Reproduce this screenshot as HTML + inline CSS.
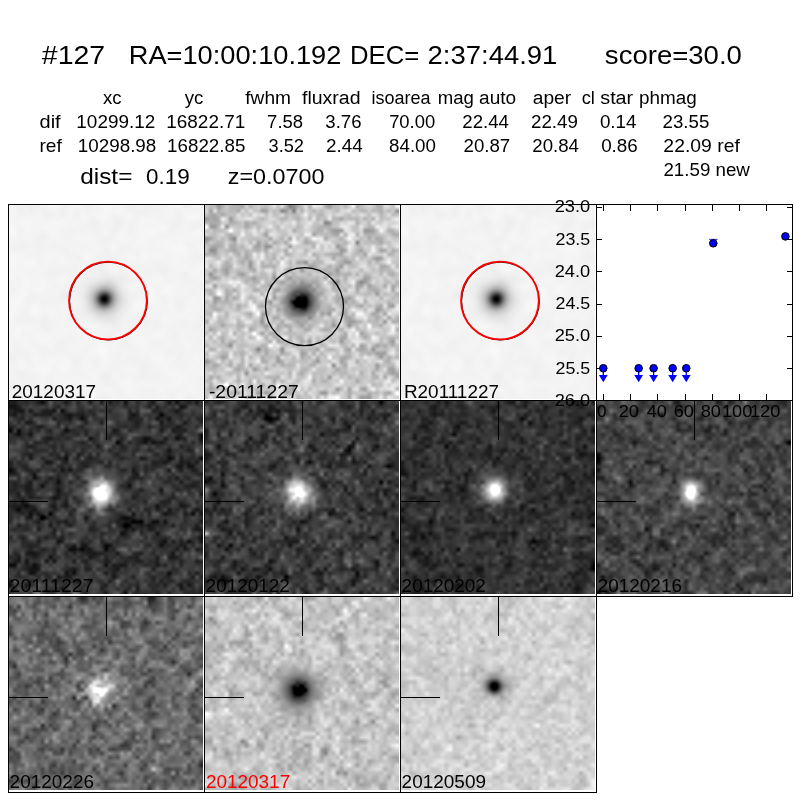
<!DOCTYPE html>
<html><head><meta charset="utf-8"><style>
html,body{margin:0;padding:0;background:#fff;width:800px;height:800px;overflow:hidden;position:relative}
svg{position:absolute;left:0;top:0}
text{font-family:"Liberation Sans",sans-serif}
</style></head><body>
<canvas id="c0" width="194" height="194" style="position:absolute;left:9px;top:205px;width:194px;height:194px;background:rgb(243,243,243)"></canvas><canvas id="c1" width="194" height="194" style="position:absolute;left:205px;top:205px;width:194px;height:194px;background:rgb(197,197,197)"></canvas><canvas id="c2" width="194" height="194" style="position:absolute;left:401px;top:205px;width:194px;height:194px;background:rgb(243,243,243)"></canvas><canvas id="c3" width="194" height="193" style="position:absolute;left:9px;top:401px;width:194px;height:193px;background:rgb(52,52,52)"></canvas><canvas id="c4" width="194" height="193" style="position:absolute;left:205px;top:401px;width:194px;height:193px;background:rgb(60,60,60)"></canvas><canvas id="c5" width="194" height="193" style="position:absolute;left:401px;top:401px;width:194px;height:193px;background:rgb(48,48,48)"></canvas><canvas id="c6" width="194" height="193" style="position:absolute;left:597px;top:401px;width:194px;height:193px;background:rgb(70,70,70)"></canvas><canvas id="c7" width="194" height="193" style="position:absolute;left:9px;top:597px;width:194px;height:193px;background:rgb(104,104,104)"></canvas><canvas id="c8" width="194" height="193" style="position:absolute;left:205px;top:597px;width:194px;height:193px;background:rgb(196,196,196)"></canvas><canvas id="c9" width="194" height="193" style="position:absolute;left:401px;top:597px;width:194px;height:193px;background:rgb(208,208,208)"></canvas>
<svg width="800" height="800" viewBox="0 0 800 800" shape-rendering="crispEdges">
<g><rect x="8.5" y="204.5" width="196" height="196" fill="none" stroke="#000" stroke-width="1"/><rect x="204.5" y="204.5" width="196" height="196" fill="none" stroke="#000" stroke-width="1"/><rect x="400.5" y="204.5" width="196" height="196" fill="none" stroke="#000" stroke-width="1"/><rect x="596.5" y="204.5" width="196" height="196" fill="none" stroke="#000" stroke-width="1"/><rect x="8.5" y="400.5" width="196" height="196" fill="none" stroke="#000" stroke-width="1"/><rect x="204.5" y="400.5" width="196" height="196" fill="none" stroke="#000" stroke-width="1"/><rect x="400.5" y="400.5" width="196" height="196" fill="none" stroke="#000" stroke-width="1"/><rect x="596.5" y="400.5" width="196" height="196" fill="none" stroke="#000" stroke-width="1"/><rect x="8.5" y="596.5" width="196" height="196" fill="none" stroke="#000" stroke-width="1"/><rect x="204.5" y="596.5" width="196" height="196" fill="none" stroke="#000" stroke-width="1"/><rect x="400.5" y="596.5" width="196" height="196" fill="none" stroke="#000" stroke-width="1"/><line x1="106.5" y1="400" x2="106.5" y2="439.5" stroke="#000" stroke-width="1"/><line x1="8" y1="501.0" x2="47.5" y2="501" stroke="#000" stroke-width="1"/><line x1="302.5" y1="400" x2="302.5" y2="439.5" stroke="#000" stroke-width="1"/><line x1="204" y1="501.0" x2="243.5" y2="501" stroke="#000" stroke-width="1"/><line x1="498.5" y1="400" x2="498.5" y2="439.5" stroke="#000" stroke-width="1"/><line x1="400" y1="501.0" x2="439.5" y2="501" stroke="#000" stroke-width="1"/><line x1="694.5" y1="400" x2="694.5" y2="439.5" stroke="#000" stroke-width="1"/><line x1="596" y1="501.0" x2="635.5" y2="501" stroke="#000" stroke-width="1"/><line x1="106.5" y1="596" x2="106.5" y2="635.5" stroke="#000" stroke-width="1"/><line x1="8" y1="697.0" x2="47.5" y2="697" stroke="#000" stroke-width="1"/><line x1="302.5" y1="596" x2="302.5" y2="635.5" stroke="#000" stroke-width="1"/><line x1="204" y1="697.0" x2="243.5" y2="697" stroke="#000" stroke-width="1"/><line x1="498.5" y1="596" x2="498.5" y2="635.5" stroke="#000" stroke-width="1"/><line x1="400" y1="697.0" x2="439.5" y2="697" stroke="#000" stroke-width="1"/></g>
</svg>
<svg width="800" height="800" viewBox="0 0 800 800">
<g><circle cx="108.5" cy="301.1" r="38.9" fill="none" stroke="#000" stroke-width="1.0"/><circle cx="107.9" cy="300.5" r="38.9" fill="none" stroke="#f00" stroke-width="1.8"/><circle cx="500.5" cy="301.1" r="38.9" fill="none" stroke="#000" stroke-width="1.0"/><circle cx="499.9" cy="300.5" r="38.9" fill="none" stroke="#f00" stroke-width="1.8"/><circle cx="304.5" cy="306.6" r="39.0" fill="none" stroke="#000" stroke-width="1.3"/></g>
<g><rect x="597" y="205" width="195" height="195" fill="#fff"/><rect x="596.5" y="204.5" width="196" height="196" fill="none" stroke="#000" stroke-width="1"/><line x1="597" y1="207.5" x2="602" y2="207.5" stroke="#000" stroke-width="1" shape-rendering="crispEdges"/><line x1="787" y1="207.5" x2="792" y2="207.5" stroke="#000" stroke-width="1" shape-rendering="crispEdges"/><line x1="597" y1="239.5" x2="602" y2="239.5" stroke="#000" stroke-width="1" shape-rendering="crispEdges"/><line x1="787" y1="239.5" x2="792" y2="239.5" stroke="#000" stroke-width="1" shape-rendering="crispEdges"/><line x1="597" y1="271.5" x2="602" y2="271.5" stroke="#000" stroke-width="1" shape-rendering="crispEdges"/><line x1="787" y1="271.5" x2="792" y2="271.5" stroke="#000" stroke-width="1" shape-rendering="crispEdges"/><line x1="597" y1="304.5" x2="602" y2="304.5" stroke="#000" stroke-width="1" shape-rendering="crispEdges"/><line x1="787" y1="304.5" x2="792" y2="304.5" stroke="#000" stroke-width="1" shape-rendering="crispEdges"/><line x1="597" y1="336.5" x2="602" y2="336.5" stroke="#000" stroke-width="1" shape-rendering="crispEdges"/><line x1="787" y1="336.5" x2="792" y2="336.5" stroke="#000" stroke-width="1" shape-rendering="crispEdges"/><line x1="597" y1="368.5" x2="602" y2="368.5" stroke="#000" stroke-width="1" shape-rendering="crispEdges"/><line x1="787" y1="368.5" x2="792" y2="368.5" stroke="#000" stroke-width="1" shape-rendering="crispEdges"/><line x1="597" y1="400.5" x2="602" y2="400.5" stroke="#000" stroke-width="1" shape-rendering="crispEdges"/><line x1="787" y1="400.5" x2="792" y2="400.5" stroke="#000" stroke-width="1" shape-rendering="crispEdges"/><line x1="603.5" y1="205" x2="603.5" y2="211" stroke="#000" stroke-width="1" shape-rendering="crispEdges"/><line x1="603.5" y1="394" x2="603.5" y2="400" stroke="#000" stroke-width="1" shape-rendering="crispEdges"/><line x1="630.5" y1="205" x2="630.5" y2="211" stroke="#000" stroke-width="1" shape-rendering="crispEdges"/><line x1="630.5" y1="394" x2="630.5" y2="400" stroke="#000" stroke-width="1" shape-rendering="crispEdges"/><line x1="657.5" y1="205" x2="657.5" y2="211" stroke="#000" stroke-width="1" shape-rendering="crispEdges"/><line x1="657.5" y1="394" x2="657.5" y2="400" stroke="#000" stroke-width="1" shape-rendering="crispEdges"/><line x1="685.5" y1="205" x2="685.5" y2="211" stroke="#000" stroke-width="1" shape-rendering="crispEdges"/><line x1="685.5" y1="394" x2="685.5" y2="400" stroke="#000" stroke-width="1" shape-rendering="crispEdges"/><line x1="712.5" y1="205" x2="712.5" y2="211" stroke="#000" stroke-width="1" shape-rendering="crispEdges"/><line x1="712.5" y1="394" x2="712.5" y2="400" stroke="#000" stroke-width="1" shape-rendering="crispEdges"/><line x1="739.5" y1="205" x2="739.5" y2="211" stroke="#000" stroke-width="1" shape-rendering="crispEdges"/><line x1="739.5" y1="394" x2="739.5" y2="400" stroke="#000" stroke-width="1" shape-rendering="crispEdges"/><line x1="766.5" y1="205" x2="766.5" y2="211" stroke="#000" stroke-width="1" shape-rendering="crispEdges"/><line x1="766.5" y1="394" x2="766.5" y2="400" stroke="#000" stroke-width="1" shape-rendering="crispEdges"/><line x1="603.30" y1="368.25" x2="603.30" y2="376" stroke="#00f" stroke-width="1.3"/><path d="M598.90,375.1 L607.70,375.1 L603.30,382.2 Z" fill="#00f"/><circle cx="603.30" cy="368.25" r="3.8" fill="#00f" stroke="#000" stroke-width="1.0"/><line x1="638.66" y1="368.25" x2="638.66" y2="376" stroke="#00f" stroke-width="1.3"/><path d="M634.26,375.1 L643.06,375.1 L638.66,382.2 Z" fill="#00f"/><circle cx="638.66" cy="368.25" r="3.8" fill="#00f" stroke="#000" stroke-width="1.0"/><line x1="653.62" y1="368.25" x2="653.62" y2="376" stroke="#00f" stroke-width="1.3"/><path d="M649.22,375.1 L658.02,375.1 L653.62,382.2 Z" fill="#00f"/><circle cx="653.62" cy="368.25" r="3.8" fill="#00f" stroke="#000" stroke-width="1.0"/><line x1="672.66" y1="368.25" x2="672.66" y2="376" stroke="#00f" stroke-width="1.3"/><path d="M668.26,375.1 L677.06,375.1 L672.66,382.2 Z" fill="#00f"/><circle cx="672.66" cy="368.25" r="3.8" fill="#00f" stroke="#000" stroke-width="1.0"/><line x1="686.26" y1="368.25" x2="686.26" y2="376" stroke="#00f" stroke-width="1.3"/><path d="M681.86,375.1 L690.66,375.1 L686.26,382.2 Z" fill="#00f"/><circle cx="686.26" cy="368.25" r="3.8" fill="#00f" stroke="#000" stroke-width="1.0"/><line x1="709.0999999999999" y1="239.4" x2="717.5" y2="239.4" stroke="#00f" stroke-width="0.8"/><circle cx="713.3" cy="243.3" r="3.8" fill="#00f" stroke="#000" stroke-width="1.0"/><circle cx="785.4" cy="236.4" r="3.8" fill="#00f" stroke="#000" stroke-width="1.0"/></g>
<g><text transform="translate(41.83,64.00) scale(1.1088,1)" font-size="25.68" fill="#000">#127</text><text transform="translate(128.75,64.00) scale(1.0605,1)" font-size="25.68" fill="#000">RA=10:00:10.192</text><text transform="translate(350.07,64.00) scale(1.0002,1)" font-size="25.68" fill="#000">DEC=</text><text transform="translate(427.55,64.00) scale(1.0704,1)" font-size="25.68" fill="#000">2:37:44.91</text><text transform="translate(604.86,64.00) scale(1.0730,1)" font-size="25.68" fill="#000">score=30.0</text><text transform="translate(102.88,104.25) scale(1.0427,1)" font-size="17.84" fill="#000">xc</text><text transform="translate(184.74,104.25) scale(1.0423,1)" font-size="17.84" fill="#000">yc</text><text transform="translate(245.26,104.25) scale(1.0729,1)" font-size="17.84" fill="#000">fwhm</text><text transform="translate(301.99,104.25) scale(1.0947,1)" font-size="17.84" fill="#000">fluxrad</text><text transform="translate(371.54,104.25) scale(1.0105,1)" font-size="17.84" fill="#000">isoarea</text><text transform="translate(437.75,104.25) scale(1.0441,1)" font-size="17.84" fill="#000">mag</text><text transform="translate(479.05,104.25) scale(1.0674,1)" font-size="17.84" fill="#000">auto</text><text transform="translate(532.79,104.25) scale(1.0758,1)" font-size="17.84" fill="#000">aper</text><text transform="translate(581.63,104.25) scale(1.0246,1)" font-size="17.84" fill="#000">cl</text><text transform="translate(600.28,104.25) scale(1.1069,1)" font-size="17.84" fill="#000">star</text><text transform="translate(638.99,104.25) scale(1.0600,1)" font-size="17.84" fill="#000">phmag</text><text transform="translate(39.56,128.00) scale(1.1193,1)" font-size="17.84" fill="#000">dif</text><text transform="translate(76.32,128.00) scale(1.0623,1)" font-size="17.84" fill="#000">10299.12</text><text transform="translate(166.32,128.00) scale(1.0612,1)" font-size="17.84" fill="#000">16822.71</text><text transform="translate(267.12,128.00) scale(1.0349,1)" font-size="17.84" fill="#000">7.58</text><text transform="translate(325.30,128.00) scale(1.0423,1)" font-size="17.84" fill="#000">3.76</text><text transform="translate(389.13,128.00) scale(1.0328,1)" font-size="17.84" fill="#000">70.00</text><text transform="translate(462.26,128.00) scale(1.0465,1)" font-size="17.84" fill="#000">22.44</text><text transform="translate(531.01,128.00) scale(1.0517,1)" font-size="17.84" fill="#000">22.49</text><text transform="translate(599.88,128.00) scale(1.0558,1)" font-size="17.84" fill="#000">0.14</text><text transform="translate(662.61,128.00) scale(1.0474,1)" font-size="17.84" fill="#000">23.55</text><text transform="translate(39.47,151.75) scale(1.0740,1)" font-size="17.84" fill="#000">ref</text><text transform="translate(77.83,151.75) scale(1.0551,1)" font-size="17.84" fill="#000">10298.98</text><text transform="translate(167.08,151.75) scale(1.0529,1)" font-size="17.84" fill="#000">16822.85</text><text transform="translate(268.58,151.75) scale(1.0193,1)" font-size="17.84" fill="#000">3.52</text><text transform="translate(326.00,151.75) scale(1.0596,1)" font-size="17.84" fill="#000">2.44</text><text transform="translate(389.04,151.75) scale(1.0509,1)" font-size="17.84" fill="#000">84.00</text><text transform="translate(463.51,151.75) scale(1.0470,1)" font-size="17.84" fill="#000">20.87</text><text transform="translate(532.26,151.75) scale(1.0465,1)" font-size="17.84" fill="#000">20.84</text><text transform="translate(601.13,151.75) scale(1.0571,1)" font-size="17.84" fill="#000">0.86</text><text transform="translate(663.37,151.75) scale(1.0853,1)" font-size="17.84" fill="#000">22.09 ref</text><text transform="translate(663.41,176.00) scale(1.0502,1)" font-size="17.84" fill="#000">21.59 new</text><text transform="translate(80.19,183.75) scale(1.1401,1)" font-size="21.4" fill="#000">dist=</text><text transform="translate(146.05,183.75) scale(1.0495,1)" font-size="21.4" fill="#000">0.19</text><text transform="translate(227.74,183.75) scale(1.0921,1)" font-size="21.4" fill="#000">z=0.0700</text><text transform="translate(11.75,398.30) scale(1.0625,1)" font-size="17.84" fill="#000">20120317</text><text transform="translate(208.90,398.30) scale(1.0873,1)" font-size="17.84" fill="#000">-20111227</text><text transform="translate(403.95,398.30) scale(1.0607,1)" font-size="17.84" fill="#000">R20111227</text><text transform="translate(9.57,591.90) scale(1.0944,1)" font-size="17.84" fill="#000">20111227</text><text transform="translate(205.60,591.90) scale(1.0621,1)" font-size="17.84" fill="#000">20120122</text><text transform="translate(401.60,591.90) scale(1.0621,1)" font-size="17.84" fill="#000">20120202</text><text transform="translate(597.60,591.90) scale(1.0639,1)" font-size="17.84" fill="#000">20120216</text><text transform="translate(9.60,788.10) scale(1.0639,1)" font-size="17.84" fill="#000">20120226</text><text transform="translate(205.90,788.10) scale(1.0625,1)" font-size="17.84" fill="#f00">20120317</text><text transform="translate(401.60,788.10) scale(1.0637,1)" font-size="17.84" fill="#000">20120509</text><text transform="translate(554.67,212.20) scale(1.0596,1)" font-size="17.23" fill="#000">23.0</text><text transform="translate(555.48,244.50) scale(1.0358,1)" font-size="17.23" fill="#000">23.5</text><text transform="translate(554.67,276.70) scale(1.0596,1)" font-size="17.23" fill="#000">24.0</text><text transform="translate(555.48,309.00) scale(1.0358,1)" font-size="17.23" fill="#000">24.5</text><text transform="translate(554.67,341.30) scale(1.0596,1)" font-size="17.23" fill="#000">25.0</text><text transform="translate(555.48,373.50) scale(1.0358,1)" font-size="17.23" fill="#000">25.5</text><text transform="translate(554.67,405.80) scale(1.0596,1)" font-size="17.23" fill="#000">26.0</text><text transform="translate(597.09,417.00) scale(0.9952,1)" font-size="17.23" fill="#000">0</text><text transform="translate(618.65,417.00) scale(1.0558,1)" font-size="17.23" fill="#000">20</text><text transform="translate(646.74,417.00) scale(1.0481,1)" font-size="17.23" fill="#000">40</text><text transform="translate(673.66,417.00) scale(1.0548,1)" font-size="17.23" fill="#000">60</text><text transform="translate(700.68,417.00) scale(1.0537,1)" font-size="17.23" fill="#000">80</text><text transform="translate(721.94,417.00) scale(1.0599,1)" font-size="17.23" fill="#000">100</text><text transform="translate(749.94,417.00) scale(1.0599,1)" font-size="17.23" fill="#000">120</text></g>
</svg>
<script>
(function(){
var P=[{"x": 9, "y": 205, "bg": 243, "noise": 2.5, "sm": 0.7, "amp": -150, "sx": 104.4, "sy": 299.0, "sig": 5.0, "halo": -95, "hsig": 10, "seed": 11, "irr": 0}, {"x": 205, "y": 205, "bg": 197, "noise": 26, "sm": 0.15, "amp": -150, "sx": 301, "sy": 301.5, "sig": 7, "halo": -95, "hsig": 13, "seed": 12, "irr": 0.3}, {"x": 401, "y": 205, "bg": 243, "noise": 2.5, "sm": 0.7, "amp": -150, "sx": 496.4, "sy": 299.0, "sig": 5.0, "halo": -95, "hsig": 10, "seed": 11, "irr": 0}, {"x": 9, "y": 401, "bg": 52, "noise": 22, "sm": 0.25, "amp": 150, "sx": 101, "sy": 493, "sig": 7.5, "halo": 95, "hsig": 12, "seed": 21, "irr": 0.05}, {"x": 205, "y": 401, "bg": 60, "noise": 24, "sm": 0.25, "amp": 150, "sx": 298.4, "sy": 493, "sig": 7.5, "halo": 95, "hsig": 12, "seed": 22, "irr": 0.05}, {"x": 401, "y": 401, "bg": 48, "noise": 17, "sm": 0.2, "amp": 160, "sx": 494.7, "sy": 490.2, "sig": 6.5, "halo": 75, "hsig": 10.5, "seed": 23, "irr": 0.05, "ey": 1}, {"x": 597, "y": 401, "bg": 70, "noise": 22, "sm": 0.25, "amp": 210, "sx": 691, "sy": 492.5, "sig": 4.0, "halo": 70, "hsig": 10, "seed": 24, "irr": 0.05, "ey": 1.6}, {"x": 9, "y": 597, "bg": 104, "noise": 26, "sm": 0.25, "amp": 110, "sx": 99.5, "sy": 691, "sig": 8, "halo": 65, "hsig": 13, "seed": 31, "irr": 0.35}, {"x": 205, "y": 597, "bg": 196, "noise": 22, "sm": 0.3, "amp": -120, "sx": 298.5, "sy": 690.5, "sig": 7, "halo": -105, "hsig": 13, "seed": 32, "irr": 0.3}, {"x": 401, "y": 597, "bg": 208, "noise": 15, "sm": 0.25, "amp": -180, "sx": 494.4, "sy": 686.4, "sig": 5, "halo": -55, "hsig": 9.5, "seed": 33, "irr": 0.05}];
function rng(a){return function(){a|=0;a=a+0x6D2B79F5|0;var t=Math.imul(a^a>>>15,1|a);t=t+Math.imul(t^t>>>7,61|t)^t;return((t^t>>>14)>>>0)/4294967296;}}
for(var i=0;i<P.length;i++){
 var p=P[i], cv=document.getElementById('c'+i), ctx=cv.getContext('2d');
 var W=cv.width,H=cv.height;
 var N=49, r=rng(p.seed*7919+1);
 var g=new Float32Array(N*N);
 for(var k=0;k<N*N;k++){var u=r()||1e-9,v=r();g[k]=Math.sqrt(-2*Math.log(u))*Math.cos(6.2831853*v);}
 if(p.sm>0){var h=new Float32Array(N*N);for(var y=0;y<N;y++)for(var x=0;x<N;x++){var s=0,c=0;for(var dy=-1;dy<=1;dy++)for(var dx=-1;dx<=1;dx++){var xx=x+dx,yy=y+dy;if(xx>=0&&yy>=0&&xx<N&&yy<N){var wt=(dx==0&&dy==0)?1:0.5;s+=wt*g[yy*N+xx];c+=wt;}}h[y*N+x]=(1-p.sm)*g[y*N+x]+p.sm*(s/c)*2.2;}g=h;}
 var im=ctx.createImageData(W,H), d=im.data, cell=194/N;
 for(var py=0;py<H;py++){
  var fy=(py+0.5)/cell-0.5; if(fy<0)fy=0; if(fy>N-1)fy=N-1; var y0=Math.floor(fy), y1=Math.min(N-1,y0+1), ty=fy-y0;
  for(var px=0;px<W;px++){
   var fx=(px+0.5)/cell-0.5; if(fx<0)fx=0; if(fx>N-1)fx=N-1; var x0=Math.floor(fx), x1=Math.min(N-1,x0+1), tx=fx-x0;
   var n=(g[y0*N+x0]*(1-tx)+g[y0*N+x1]*tx)*(1-ty)+(g[y1*N+x0]*(1-tx)+g[y1*N+x1]*tx)*ty;
   var ddx=p.x+px+0.5-p.sx, ddy=p.y+py+0.5-p.sy, d2=ddx*ddx+ddy*ddy, ey=p.ey||1, d2c=ddx*ddx+ddy*ddy/(ey*ey);
   var st=p.amp*Math.exp(-d2c/(2*p.sig*p.sig))+p.halo*Math.exp(-d2/(2*p.hsig*p.hsig)); var val=p.bg+p.noise*n+st*(1+p.irr*n);
   val=val<0?0:(val>255?255:val);
   var o=(py*W+px)*4; d[o]=d[o+1]=d[o+2]=val; d[o+3]=255;
  }
 }
 ctx.putImageData(im,0,0);
}
})();
</script>
</body></html>
